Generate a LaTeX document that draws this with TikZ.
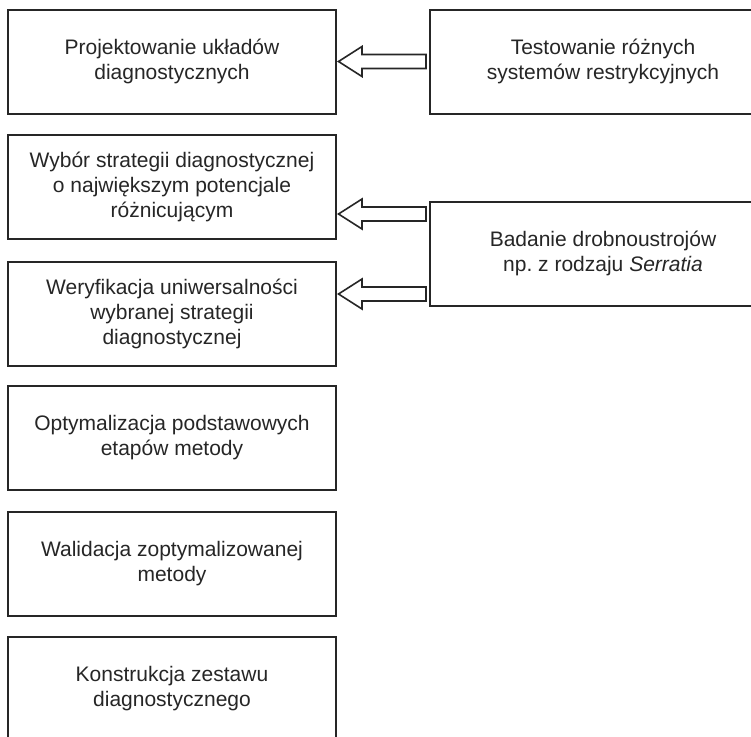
\documentclass[tikz,border=0pt]{standalone}
\usepackage{fontspec}
\setmainfont{Liberation Sans}
\usetikzlibrary{calc}
\frenchspacing
\definecolor{ink}{HTML}{262626}
\tikzset{
  box/.style={draw=ink, line width=2pt, rectangle, minimum width=328pt, minimum height=104pt,
    align=center, inner sep=0pt, text=ink, font=\fontsize{21}{25}\selectfont},
  rbox/.style={box, minimum width=346pt},
  fatarrow/.style={draw=ink, line width=1.6pt, fill=white, line join=miter}
}
\newcommand\fatarr[2]{% #1 tail point (on right box), #2 left node
  \path[fatarrow] let \p1=(#1), \p2=(#2.east) in
    (\x1-3pt,\y1-7pt) -- (\x2+25pt,\y1-7pt) -- (\x2+25pt,\y1-15pt) -- (\x2+1.5pt,\y1)
    -- (\x2+25pt,\y1+15pt) -- (\x2+25pt,\y1+7pt) -- (\x1-3pt,\y1+7pt) -- cycle;
}
\begin{document}
\begin{tikzpicture}[x=1pt,y=-1pt]
\useasboundingbox (0,0) rectangle (751,736);
\clip (0,0) rectangle (751,736);
\fill[white] (0,0) rectangle (751,736);
\node[box] (l1) at (172,61.5) {Projektowanie układów\\diagnostycznych};
\node[box] (l2) at (172,187) {Wybór strategii diagnostycznej\\o największym potencjale\\różnicującym};
\node[box] (l3) at (172,313.5) {Weryfikacja uniwersalności\\wybranej strategii\\diagnostycznej};
\node[box] (l4) at (172,437.5) {Optymalizacja podstawowych\\etapów metody};
\node[box] (l5) at (172,563.5) {Walidacja zoptymalizowanej\\metody};
\node[box] (l6) at (172,688.5) {Konstrukcja zestawu\\diagnostycznego};
\node[rbox] (r1) at (603,61.5) {Testowanie różnych\\systemów restrykcyjnych};
\node[rbox] (r2) at (603,253.5) {Badanie drobnoustrojów\\np. z rodzaju \textit{Serratia}};
\coordinate (a1) at (r1.west);
\coordinate (a2) at ($(r2.west)+(0,-39.5)$);
\coordinate (a3) at ($(r2.west)+(0,40.5)$);
\fatarr{a1}{l1}
\fatarr{a2}{l2}
\fatarr{a3}{l3}
\end{tikzpicture}
\end{document}
